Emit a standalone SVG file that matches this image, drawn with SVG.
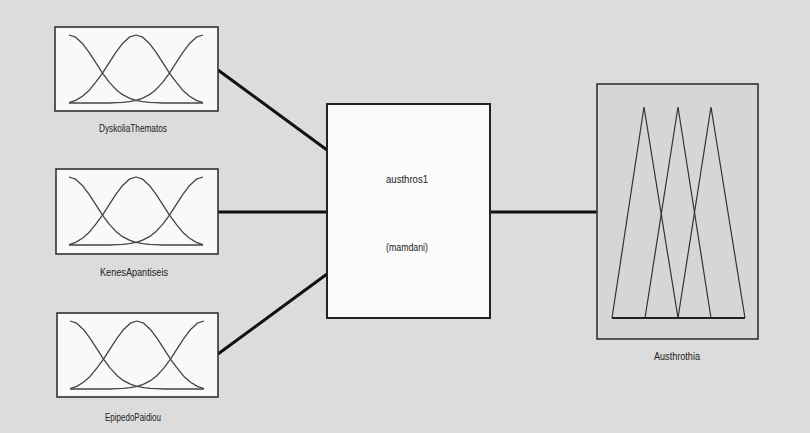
<svg xmlns="http://www.w3.org/2000/svg" xmlns:xlink="http://www.w3.org/1999/xlink" width="810" height="433" viewBox="0 0 810 433">
<style>
.bg{fill:#dcdcdc}
.mfbox{fill:#f9f9f9;stroke:#333;stroke-width:1.6}
.sys{fill:#fbfbfb;stroke:#222;stroke-width:2}
.outbox{fill:#d6d6d6;stroke:#333;stroke-width:1.6}
.mf{fill:none;stroke:#444;stroke-width:1.3;stroke-linejoin:round}
.tri{fill:none;stroke:#333;stroke-width:1.2;stroke-linejoin:miter}
.conn line{stroke:#111;stroke-width:3}
text{font-family:"Liberation Sans",Arial,sans-serif;font-size:10px;fill:#222;text-anchor:middle}
</style>
<defs>
<g id="mfs">
<path class="mf" d="M0,0 L6.7,2.2 13.4,8.4 20.1,17.4 26.8,27.7 33.5,38.1 40.2,47.1 46.9,54.4 53.6,59.7 60.3,63.2 67,65.4 73.7,66.7 80.4,67.4 87.1,67.7 93.8,68 134,68"/>
<path class="mf" d="M134,0 L127.3,2.2 120.6,8.4 113.9,17.4 107.2,27.7 100.5,38.1 93.8,47.1 87.1,54.4 80.4,59.7 73.7,63.2 67,65.4 60.3,66.7 53.6,67.4 46.9,67.7 40.2,68 0,68"/>
<path class="mf" d="M0,67.6 L6.7,65.4 13.4,61.2 20.1,55.4 26.8,47.1 33.5,38.1 40.2,27.7 46.9,17.4 53.6,8.4 60.3,2.2 67,0 73.7,2.2 80.4,8.4 87.1,17.4 93.8,27.7 100.5,38.1 107.2,47.1 113.9,55.4 120.6,61.2 127.3,65.4 134,67.6"/>
</g>
</defs>
<rect class="bg" x="0" y="0" width="810" height="433"/>
<g id="connectors" class="conn">
<line x1="218" y1="70" x2="327" y2="150"/>
<line x1="218" y1="212" x2="327" y2="212"/>
<line x1="218" y1="354" x2="327" y2="274"/>
<line x1="490" y1="212" x2="597" y2="212"/>
</g>
<g id="DyskoliaThematos">
<rect class="mfbox" x="55" y="27" width="163" height="84"/>
<use xlink:href="#mfs" href="#mfs" x="69" y="35"/>
<text x="133" y="132" textLength="68" lengthAdjust="spacingAndGlyphs">DyskoliaThematos</text>
</g>
<g id="KenesApantiseis">
<rect class="mfbox" x="56" y="169" width="162" height="85"/>
<use xlink:href="#mfs" href="#mfs" x="69" y="177"/>
<text x="134" y="276" textLength="68" lengthAdjust="spacingAndGlyphs">KenesApantiseis</text>
</g>
<g id="EpipedoPaidiou">
<rect class="mfbox" x="57" y="313" width="161" height="84"/>
<use xlink:href="#mfs" href="#mfs" x="70" y="321"/>
<text x="133" y="421" textLength="56" lengthAdjust="spacingAndGlyphs">EpipedoPaidiou</text>
</g>
<g id="austhros1">
<rect class="sys" x="327" y="104" width="163" height="214"/>
<text x="407" y="183" textLength="42" lengthAdjust="spacingAndGlyphs">austhros1</text>
<text x="407" y="251" textLength="42" lengthAdjust="spacingAndGlyphs">(mamdani)</text>
</g>
<g id="Austhrothia">
<rect class="outbox" x="597" y="84" width="161" height="255"/>
<polyline class="tri" points="612,318 644,107 678,318"/>
<polyline class="tri" points="645,318 678,107 711,318"/>
<polyline class="tri" points="678,318 711,107 745,318"/>
<line x1="612" y1="318" x2="745" y2="318" stroke="#222" stroke-width="2"/>
<text x="677" y="360" textLength="46" lengthAdjust="spacingAndGlyphs">Austhrothia</text>
</g>
</svg>
